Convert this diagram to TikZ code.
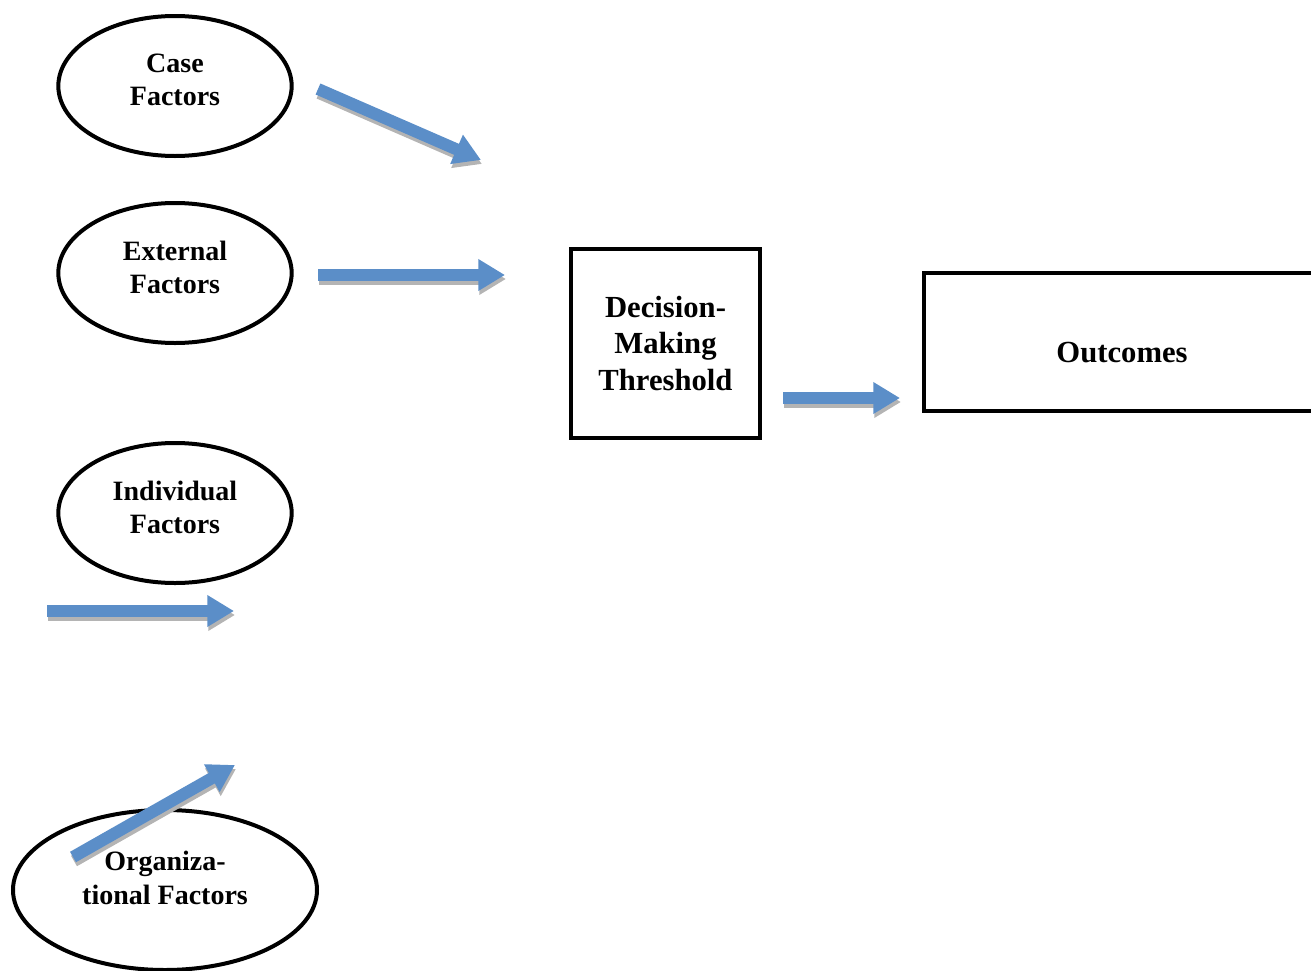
\documentclass[tikz,border=0pt]{standalone}
\usepackage{fontspec}
\setmainfont{Liberation Serif}
\usetikzlibrary{arrows.meta,shapes.geometric}
\definecolor{arrow_blue}{RGB}{91,142,200}
\definecolor{shadow_gray}{RGB}{180,180,180}

\begin{document}
\begin{tikzpicture}[x=0.75pt,y=-0.75pt]
    \tikzstyle{factor}=[draw=black, ellipse, line width=3pt, minimum width=175pt, minimum height=105pt, inner sep=0pt, align=center, text depth=9pt, font=\fontsize{21}{25}\selectfont\bfseries]
    \tikzstyle{box}=[draw=black, rectangle, line width=3.6pt, inner sep=0pt, align=center, font=\fontsize{23}{27.5}\selectfont\bfseries]
    \tikzstyle{blk}=[line width=9pt, draw=arrow_blue, -{Triangle[length=20pt,width=22.5pt]}]
    \tikzstyle{shade}=[blk, draw=shadow_gray]

    \useasboundingbox (0,0) rectangle (1311,971);
    \clip (0,0) rectangle (1311,971);

    \node[factor] (case) at (175,86)  {Case\\Factors};
    \node[factor] (ext)  at (175,273) {External\\Factors};
    \node[factor] (ind)  at (175,513) {Individual\\Factors};
    \node[factor, minimum width=228pt, minimum height=120pt,
          label={[yshift=9pt, font=\fontsize{21}{25}\selectfont\bfseries, align=center]center:Organiza-\\tional Factors}]
          (org) at (165,890) {};

    \node[box, minimum width=141.75pt, minimum height=141.75pt] (dmt) at (665.5,343.5) {Decision-\\Making\\Threshold};
    \node[box, minimum width=297pt, minimum height=103.5pt, text height=30pt, text depth=0pt] (out) at (1122,342) {Outcomes};

    % free-standing block arrows
    \coordinate (a1) at (318,89);  \coordinate (b1) at (481,160);
    \coordinate (a2) at (318,275); \coordinate (b2) at (505,275);
    \coordinate (a3) at (783,398); \coordinate (b3) at (900,398);
    \coordinate (a4) at (47,611);  \coordinate (b4) at (234,611);
    \coordinate (a5) at (73,857);  \coordinate (b5) at (235,765);

    \foreach \s/\e in {a1/b1,a2/b2,a3/b3,a4/b4,a5/b5} {
      \draw[shade] ([shift={(1,4)}]\s) -- ([shift={(1,4)}]\e);
      \draw[blk] (\s) -- (\e);
    }
\end{tikzpicture}
\end{document}
